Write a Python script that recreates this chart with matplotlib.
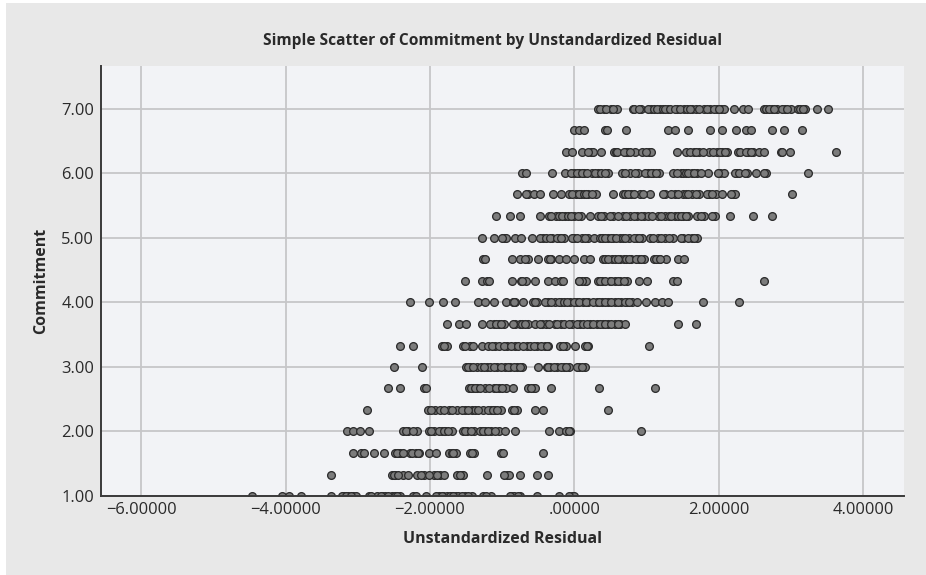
import matplotlib
matplotlib.use("Agg")
import matplotlib.pyplot as plt
from matplotlib.patches import Rectangle

plt.rcParams['font.family'] = ['Open Sans', 'DejaVu Sans']

W, H = 926, 575
levels = [1.00, 1.33, 1.67, 2.00, 2.33, 2.67, 3.00, 3.33, 3.67, 4.00, 4.33, 4.67, 5.00, 5.33, 5.67, 6.00, 6.33, 6.67, 7.00]

res_100 = [-4.47,-4.05,-3.95,-3.78,-3.37,-3.19,-3.13,-3.06,-3.02,-2.85,-2.73,-2.67,-2.62,-2.53,-2.47,-2.41,-2.23,-2.20,-2.05,-1.87,-1.82,-1.77,-1.70,-1.64,-1.61,-1.51,-1.42,-1.26,-1.16,-0.88,-0.84,-0.75,-0.52,-0.21,-0.04,0.00,
           -3.22,-3.16,-3.09,-2.82,-2.68,-2.58,-2.49,-2.45,-1.91,-1.84,-1.72,-1.68,-1.56,-1.47,-1.22,-0.89,-0.78,-0.07]
res_133 = [-3.37,-2.53,-2.48,-2.38,-2.31,-2.18,-2.08,-1.95,-1.86,-1.81,-1.62,-1.56,-1.54,-1.21,-0.94,-0.91,-0.75,-0.52,-0.36,
           -2.50,-2.44,-2.13,-2.02,-1.90,-1.59,-0.98]
res_167 = [-3.07,-2.95,-2.92,-2.77,-2.64,-2.48,-2.44,-2.41,-2.28,-2.20,-2.15,-2.01,-1.92,-1.73,-1.70,-1.64,-1.45,-1.39,-1.02,-0.99,-0.44,
           -2.46,-2.38,-2.25,-2.17,-1.68,-1.42]
res_200 = [-3.15,-3.07,-2.97,-2.85,-2.37,-2.30,-2.18,-2.02,-1.95,-1.84,-1.79,-1.70,-1.54,-1.49,-1.39,-1.28,-1.24,-1.15,-1.05,-0.96,-0.82,-0.35,-0.22,-0.12,-0.06,0.92,
           -2.33,-2.23,-1.99,-1.87,-1.81,-1.75,-1.52,-1.43,-1.31,-1.26,-1.19,-1.10,-0.08]
res_233 = [-2.87,-2.03,-1.93,-1.86,-1.74,-1.63,-1.51,-1.42,-1.38,-1.26,-1.16,-1.10,-1.01,-0.87,-0.80,-0.55,-0.43,0.46,
           -1.99,-1.80,-1.69,-1.56,-1.47,-1.33,-1.20,-1.13,-1.07,-0.84]
res_267 = [-2.58,-2.41,-2.08,-2.06,-1.46,-1.40,-1.35,-1.24,-1.12,-1.05,-0.95,-0.85,-0.64,-0.58,-0.54,-0.33,0.34,1.12,
           -1.43,-1.37,-1.31,-1.18,-1.08,-1.00,-0.60]
res_300 = [-2.50,-2.11,-1.50,-1.45,-1.35,-1.21,-1.17,-1.07,-0.96,-0.89,-0.80,-0.72,-0.50,-0.38,-0.34,-0.24,-0.15,-0.08,0.06,0.15,
           -1.47,-1.40,-1.30,-1.25,-1.12,-1.02,-0.92,-0.84,-0.76,-0.36,-0.28,-0.19,-0.11,0.03,0.10]
res_333 = [-2.41,-2.23,-1.84,-1.77,-1.54,-1.45,-1.28,-1.19,-1.10,-0.94,-0.82,-0.66,-0.61,-0.52,-0.41,-0.36,-0.20,-0.11,0.01,0.15,0.19,1.03,
           -1.81,-1.51,-1.41,-1.14,-1.04,-0.98,-0.88,-0.78,-0.71,-0.56,-0.46,-0.38,-0.16,0.17]
res_367 = [-1.76,-1.60,-1.50,-1.28,-1.12,-1.05,-0.98,-0.82,-0.75,-0.64,-0.54,-0.45,-0.39,-0.27,-0.18,-0.04,0.08,0.22,0.31,0.39,0.47,0.56,0.63,0.70,1.43,1.68,
           -1.17,-1.08,-1.02,-0.85,-0.72,-0.68,-0.48,-0.35,-0.24,-0.14,-0.08,0.04,0.12,0.17,0.26,0.35,0.43,0.51,0.60]
res_400 = [-2.27,-2.02,-1.82,-1.65,-1.33,-1.24,-1.12,-0.95,-0.85,-0.82,-0.71,-0.57,-0.52,-0.36,-0.27,-0.18,-0.06,0.03,0.12,0.19,0.31,0.38,0.47,0.56,0.65,0.73,0.80,0.86,0.99,1.12,1.21,1.29,1.78,2.28,
           -0.84,-0.54,-0.41,-0.32,-0.22,-0.14,-0.10,0.00,0.07,0.16,0.26,0.34,0.42,0.51,0.60,0.70,0.76]
res_433 = [-1.52,-1.28,-1.21,-1.18,-0.86,-0.74,-0.67,-0.55,-0.37,-0.27,-0.18,0.06,0.15,0.16,0.32,0.38,0.49,0.56,0.63,0.73,0.89,1.01,1.37,1.42,2.62,
           0.10,0.35,0.42,0.51,0.60,0.68,-0.72,-0.16,0.07]
res_467 = [-1.26,-1.24,-0.87,-0.75,-0.64,-0.51,-0.36,-0.33,-0.22,-0.12,0.00,0.13,0.21,0.40,0.52,0.63,0.68,0.79,0.89,0.97,1.10,1.17,1.27,1.44,1.52,
           -0.34,-0.69,0.43,0.47,0.56,0.60,0.72,0.76,0.85,0.92,1.13,1.19]
res_500 = [-1.28,-1.12,-0.98,-0.95,-0.82,-0.74,-0.59,-0.43,-0.31,-0.20,-0.15,-0.01,0.10,0.19,0.27,0.40,0.47,0.54,0.63,0.75,0.86,0.93,1.05,1.16,1.26,1.37,1.51,1.63,1.70,
           -1.00,-0.47,-0.40,-0.34,-0.24,-0.18,-0.04,0.04,0.14,0.35,0.38,0.43,0.50,0.58,0.67,0.70,0.83,0.89,1.09,1.20,1.31,1.47,1.57,1.66]
res_533 = [-1.08,-0.89,-0.76,-0.48,-0.35,-0.26,-0.13,-0.01,0.09,0.21,0.33,0.41,0.53,0.67,0.77,0.87,0.96,1.02,1.16,1.26,1.39,1.51,1.58,1.70,1.80,1.95,2.16,2.47,2.74,
           -0.32,-0.22,-0.17,-0.09,-0.05,0.05,0.37,0.49,0.60,0.72,0.82,0.92,1.07,1.20,1.31,1.34,1.43,1.47,1.55,1.76,1.91]
res_567 = [-0.80,-0.64,-0.56,-0.48,-0.30,-0.18,-0.07,0.02,0.09,0.19,0.30,0.54,0.67,0.78,0.91,1.04,1.26,1.39,1.51,1.63,1.73,1.86,1.96,2.04,2.20,2.23,3.01,
           -0.67,-0.04,0.06,0.13,0.16,0.25,0.70,0.74,0.83,0.95,1.22,1.34,1.44,1.55,1.58,1.69,1.83,1.91,2.17]
res_600 = [-0.72,-0.67,-0.31,-0.13,-0.01,0.06,0.13,0.24,0.33,0.46,0.66,0.77,0.88,1.02,1.09,1.17,1.37,1.47,1.51,1.63,1.70,1.85,2.02,2.07,2.25,2.39,2.51,2.66,3.23,
           -0.05,0.03,0.10,0.18,0.28,0.37,0.42,0.70,0.84,0.98,1.06,1.13,1.42,1.55,1.58,1.66,1.75,1.99,2.22,2.28,2.36,2.63]
res_633 = [-0.11,-0.04,0.11,0.23,0.26,0.37,0.55,0.57,0.71,0.74,0.84,0.94,1.03,1.06,1.42,1.55,1.65,1.72,1.87,1.97,2.05,2.12,2.27,2.41,2.48,2.55,2.63,2.86,2.98,3.62,
           0.19,0.59,0.68,0.77,0.99,1.60,1.69,1.78,1.92,2.01,2.09,2.30,2.37,2.44,2.88]
res_667 = [-0.01,0.06,0.13,0.42,0.45,0.71,1.30,1.40,1.57,1.88,2.05,2.24,2.38,2.44,2.74,2.90,3.15]
res_700 = [0.32,0.41,0.50,0.59,0.81,0.92,1.06,1.18,1.29,1.42,1.52,1.63,1.69,1.79,1.88,1.97,2.03,2.07,2.21,2.33,2.41,2.62,2.73,2.80,2.92,3.00,3.10,3.19,3.36,3.51,
           0.36,0.44,0.54,0.83,0.89,1.02,1.10,1.14,1.23,1.25,1.33,1.40,1.46,1.56,1.60,1.73,1.83,1.93,2.00,2.65,2.70,2.76,2.88,2.95,3.13,3.17]

rows = [res_100,res_133,res_167,res_200,res_233,res_267,res_300,res_333,res_367,res_400,
        res_433,res_467,res_500,res_533,res_567,res_600,res_633,res_667,res_700]

x_ticks = [-6, -4, -2, 0, 2, 4]
x_labels = ['\u22126.00000', '\u22124.00000', '\u22122.00000', '.00000', '2.00000', '4.00000']
y_ticks = [1, 2, 3, 4, 5, 6, 7]
y_labels = ['1.00', '2.00', '3.00', '4.00', '5.00', '6.00', '7.00']

fig = plt.figure(figsize=(W/100, H/100), dpi=100, facecolor='white')
fig.add_artist(Rectangle((6/W, 0), 1-6/W, 1-3/H, transform=fig.transFigure,
                         facecolor='#e8e8e8', edgecolor='none', zorder=-5))
L, R, T, B = 101, 904, 66, 496
ax = fig.add_axes([L/W, 1-B/H, (R-L)/W, (B-T)/H], facecolor='#f2f3f6')
ax.set_xlim(-6.555, 4.564)
ax.set_ylim(1.0, 7.66)
ax.grid(True, color='#c6c6c8', lw=1.3)
ax.set_axisbelow(True)
for lv, r in zip(levels, rows):
    ax.scatter(r, [lv]*len(r), s=31, facecolor='#7c7c7c', edgecolor='#2d2d2d', linewidth=0.95, zorder=3)
for s in ['top', 'right']:
    ax.spines[s].set_visible(False)
for s in ['left', 'bottom']:
    ax.spines[s].set_color('#3a3a3a')
    ax.spines[s].set_linewidth(1.4)
    ax.spines[s].set_zorder(4)
ax.set_xticks(x_ticks, x_labels)
ax.set_yticks(y_ticks, y_labels)
ax.tick_params(length=0, labelsize=11.9, labelcolor='#2a2a2a')
ax.tick_params(axis='x', pad=4)
ax.tick_params(axis='y', pad=5)
ax.set_xlabel('Unstandardized Residual', fontsize=11.5, fontweight='bold', color='#2a2a2a', labelpad=10)
ax.set_ylabel('Commitment', fontsize=11.5, fontweight='bold', color='#2a2a2a', labelpad=9)
fig.text(493/W, 1-41/H, 'Simple Scatter of Commitment by Unstandardized Residual', ha='center', va='center',
         fontsize=11.2, fontweight='bold', color='#2a2a2a')
fig.savefig('out.png', dpi=100)
